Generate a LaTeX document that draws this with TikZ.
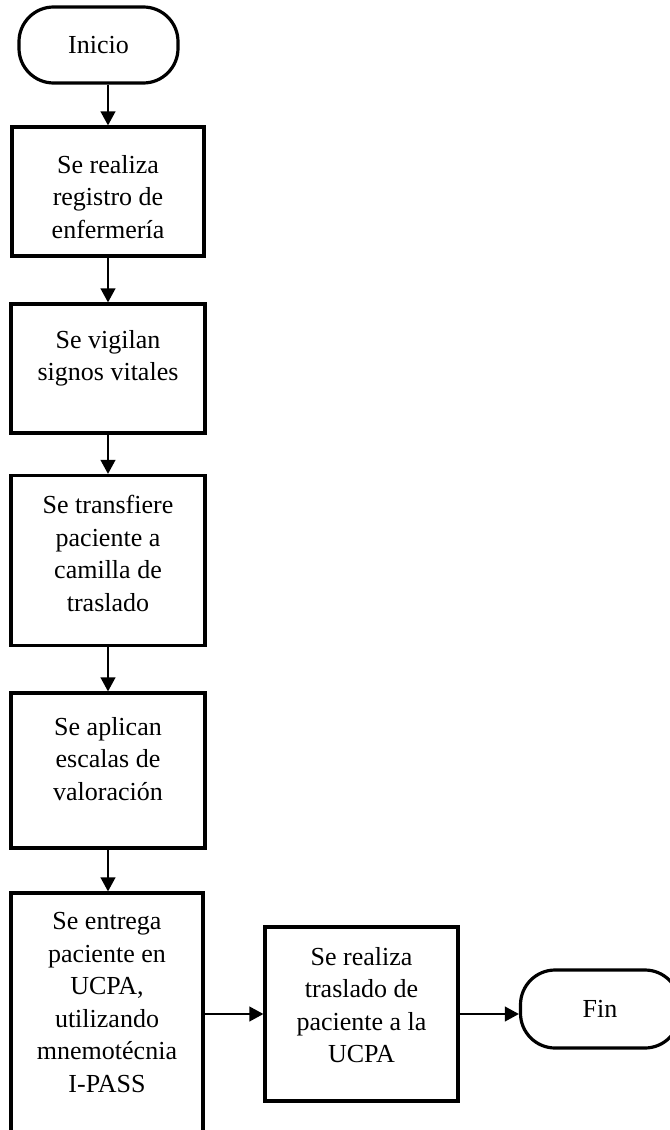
\documentclass[tikz,border=0pt]{standalone}
\usepackage{fontspec}
\setmainfont{Liberation Serif}
\usetikzlibrary{arrows.meta}
\newcommand\boxfont{\fontsize{19.5}{24.4}\selectfont}
\begin{document}
\begin{tikzpicture}[x=0.75pt,y=-0.75pt,
  box/.style={draw,line width=2.4pt,inner sep=0pt},
  term/.style={draw,line width=2.4pt,rounded corners=26pt,inner sep=0pt,font=\boxfont},
  txt/.style={align=center,inner sep=0pt,font=\boxfont,anchor=north},
  arr/.style={line width=1.5pt,-{Triangle[width=11pt,length=10.5pt]}}]
\clip (0,0) rectangle (670,1130);
\node[term,minimum width=119.25pt,minimum height=57pt] (ini) at (98.5,45) {Inicio};
\node[box,minimum width=144pt,minimum height=96.75pt] (b1) at (108,191.5) {};
\node[txt] (t1) at (108,155) {Se realiza\\registro de\\enfermería};
\node[box,minimum width=145.5pt,minimum height=96.75pt] (b2) at (108,368.5) {};
\node[txt] (t2) at (108,330) {Se vigilan\\signos vitales};
\node[box,minimum width=145.5pt,minimum height=127.5pt] (b3) at (108,560.5) {};
\node[txt] (t3) at (108,495) {Se transfiere\\paciente a\\camilla de\\traslado};
\node[box,minimum width=145.5pt,minimum height=116.25pt] (b4) at (108,770.5) {};
\node[txt] (t4) at (108,717) {Se aplican\\escalas de\\valoración};
\node[box,minimum width=144pt,minimum height=215.25pt] (b5) at (107,1036.5) {};
\node[txt] (t5) at (107,912) {Se entrega\\paciente en\\UCPA,\\utilizando\\mnemotécnia\\I-PASS};
\node[box,minimum width=144.75pt,minimum height=130.5pt] (b6) at (361.5,1014) {};
\node[txt] (t6) at (361.5,947) {Se realiza\\traslado de\\paciente a la\\UCPA};
\node[term,minimum width=119.25pt,minimum height=58.5pt] (fin) at (600,1009) {Fin};
\draw[arr] (ini.south -| b1.north) -- (b1.north);
\draw[arr] (b1) -- (b2);
\draw[arr] (b2) -- (b3);
\draw[arr] (b3) -- (b4);
\draw[arr] (b4.south) -- (b4.south |- b5.north);
\draw[arr] (b5.east |- b6.west) -- (b6.west);
\draw[arr] (b6.east) -- (b6.east -| fin.west);
\end{tikzpicture}
\end{document}
